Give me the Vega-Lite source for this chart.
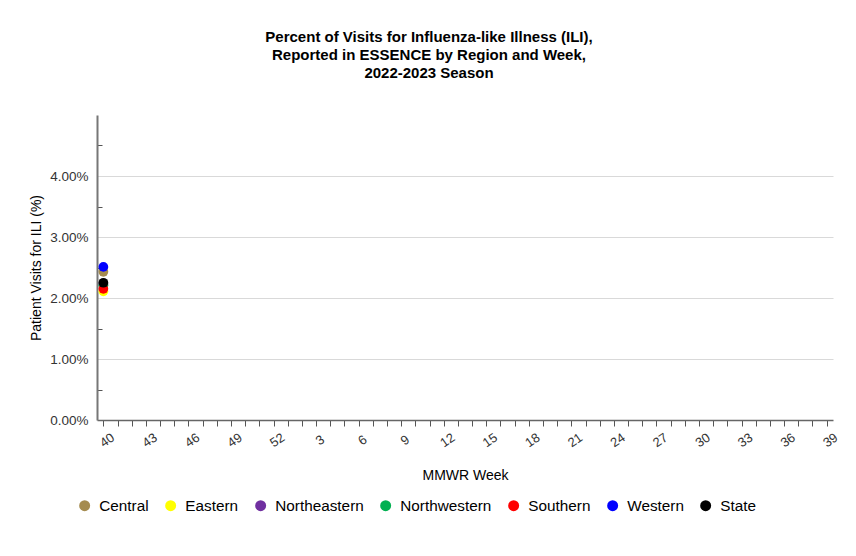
{
  "$schema": "https://vega.github.io/schema/vega-lite/v6.json",
  "width": 736,
  "height": 305,
  "autosize": {"type": "none"},
  "padding": {"left": 97, "top": 115, "right": 23, "bottom": 136},
  "background": "white",
  "config": {
    "font": "Liberation Sans",
    "view": {"stroke": null}
  },
  "title": {
    "text": ["Percent of Visits for Influenza-like Illness (ILI),", "Reported in ESSENCE by Region and Week,", "2022-2023 Season"],
    "fontSize": 15,
    "fontWeight": "bold",
    "font": "Liberation Sans",
    "color": "#000000",
    "lineHeight": 18,
    "anchor": "middle",
    "dx": -36,
    "offset": 34
  },
  "data": {
    "values": [
      {"week": "40", "region": "Central", "pct": 2.43},
      {"week": "40", "region": "Eastern", "pct": 2.11},
      {"week": "40", "region": "Northeastern", "pct": 2.23},
      {"week": "40", "region": "Northwestern", "pct": 2.21},
      {"week": "40", "region": "Southern", "pct": 2.15},
      {"week": "40", "region": "Western", "pct": 2.51},
      {"week": "40", "region": "State", "pct": 2.25}
    ]
  },
  "mark": {"type": "circle", "size": 95, "opacity": 1},
  "encoding": {
    "x": {
      "field": "week",
      "type": "ordinal",
      "sort": null,
      "scale": {
        "type": "point",
        "padding": 0.45,
        "domain": ["40","41","42","43","44","45","46","47","48","49","50","51","52","1","2","3","4","5","6","7","8","9","10","11","12","13","14","15","16","17","18","19","20","21","22","23","24","25","26","27","28","29","30","31","32","33","34","35","36","37","38","39"]
      },
      "axis": {
        "title": "MMWR Week",
        "titleFontSize": 14,
        "titleFontWeight": "normal",
        "titleColor": "#000000",
        "titlePadding": 19,
        "labelExpr": "(toNumber(datum.value) >= 40 ? (toNumber(datum.value) - 40) % 3 == 0 : toNumber(datum.value) % 3 == 0) ? datum.label : ''",
        "labelAngle": -35,
        "labelAlign": "center",
        "labelBaseline": "top",
        "labelFontSize": 13,
        "labelColor": "#333333",
        "labelPadding": 9,
        "labelOverlap": false,
        "tickSize": 6,
        "tickColor": "#555555",
        "domainColor": "#666666",
        "domainWidth": 1.5,
        "grid": false
      }
    },
    "y": {
      "field": "pct",
      "type": "quantitative",
      "scale": {"domain": [0, 5], "nice": false},
      "axis": {
        "title": "Patient Visits for ILI (%)",
        "titleFontSize": 14,
        "titleFontWeight": "normal",
        "titleColor": "#000000",
        "titlePadding": 6,
        "values": [0, 0.5, 1, 1.5, 2, 2.5, 3, 3.5, 4, 4.5],
        "labelExpr": "datum.value % 1 == 0 ? format(datum.value, '.2f') + '%' : ''",
        "labelFontSize": 13.5,
        "labelColor": "#333333",
        "labelPadding": 14,
        "tickSize": -5,
        "tickColor": "#555555",
        "tickOpacity": {"condition": {"test": "datum.value % 1 == 0", "value": 0}, "value": 1},
        "grid": true,
        "gridColor": "#d9d9d9",
        "gridOpacity": {"condition": {"test": "datum.value % 1 == 0 && datum.value > 0", "value": 1}, "value": 0},
        "domainColor": "#777777",
        "domainWidth": 2
      }
    },
    "color": {
      "field": "region",
      "type": "nominal",
      "sort": null,
      "scale": {
        "domain": ["Central", "Eastern", "Northeastern", "Northwestern", "Southern", "Western", "State"],
        "range": ["#a58c50", "#ffff00", "#7030a0", "#00b050", "#ff0000", "#0000ff", "#000000"]
      },
      "legend": {
        "title": null,
        "orient": "none",
        "legendX": -20,
        "legendY": 383,
        "direction": "horizontal",
        "symbolType": "circle",
        "symbolSize": 120,
        "symbolOpacity": 1,
        "labelFontSize": 15.3,
        "labelColor": "#000000",
        "labelOffset": 7,
        "columnPadding": 14
      }
    }
  }
}
